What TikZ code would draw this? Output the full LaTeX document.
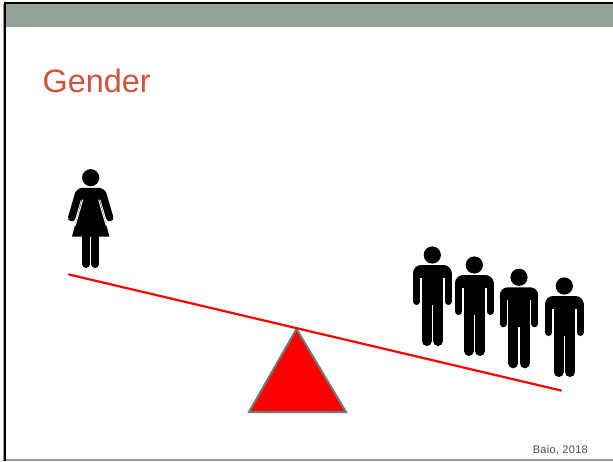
\documentclass[tikz,border=0pt]{standalone}
\usepackage{fontspec}
\setmainfont{Liberation Sans}
\definecolor{band}{HTML}{92A498}
\definecolor{titlered}{HTML}{D2533C}
\definecolor{tribord}{HTML}{6E7B73}
\tikzset{
  limb/.style={draw=black,line cap=round},
  beam/.style={draw=red,line width=2.2pt,line cap=round},
  man/.pic={
    \fill[black] (0,0) circle (8.6);
    \fill[black,rounded corners=8pt] (-19.2,10) rectangle (19.2,28);
    \fill[white] (-12.2,23) rectangle (12.2,50);
    \fill[black] (-10.7,14) rectangle (10.7,50);
    \draw[limb,line width=7pt] (-15.7,18) -- (-15.7,46.5);
    \draw[limb,line width=7pt] (15.7,18) -- (15.7,46.5);
    \draw[limb,line width=10pt] (-5.7,48) -- (-5.7,86);
    \draw[limb,line width=10pt] (5.7,48) -- (5.7,86);
  },
  woman/.pic={
    \fill[black] (0,0) circle (8.6);
    \fill[black,rounded corners=4pt] (-13,10.2) -- (13,10.2) -- (16,18) -- (7,24) -- (-7,24) -- (-16,18) -- cycle;
    \fill[black] (-7.5,16) -- (7.5,16) -- (18.7,59) -- (-18.7,59) -- cycle;
    \draw[limb,line width=7.4pt] (-12,16) -- (-19,40);
    \draw[limb,line width=7.4pt] (12,16) -- (19,40);
    \draw[white,line width=1pt] (-8,22) -- (-15.5,48);
    \draw[white,line width=1pt] (8,22) -- (15.5,48);
    \draw[limb,line width=8pt] (-4.6,55) -- (-4.6,86.3);
    \draw[limb,line width=8pt] (4.6,55) -- (4.6,86.3);
  }
}
\begin{document}
\begin{tikzpicture}[x=1pt,y=-1pt]
\useasboundingbox (0,0) rectangle (613,461);
% slide frame
\fill[white] (0,0) rectangle (613,461);
\fill[band] (6,4) rectangle (613,27);
\fill[black] (4,2) rectangle (613,4.3);
\fill[black] (4,2) rectangle (6,461);
\fill[gray!80] (3,4) rectangle (4,461);
\fill[gray!80] (6,459) rectangle (613,460.5);
% title and credit
\node[anchor=base west,inner sep=0pt,text=titlered,font=\fontsize{32.4}{32}\selectfont] (title) at (42.5,92.5) {Gender};
\node[anchor=base east,inner sep=0pt,text=black!70,font=\fontsize{11}{11}\selectfont\addfontfeature{LetterSpace=2.7}] (credit) at (588,453) {Baio, 2018};
% seesaw
\draw[draw=tribord,fill=red,line width=2pt,line join=miter] (296.5,329) -- (346,412) -- (249,412) -- cycle;
\draw[beam] (69,274.5) -- (561,390.5);
% people
\pic at (90.7,177.7) {woman};
\pic at (432.3,255) {man};
\pic at (474.3,265) {man};
\pic at (519,277.3) {man};
\pic at (564.3,286) {man};
\end{tikzpicture}
\end{document}
